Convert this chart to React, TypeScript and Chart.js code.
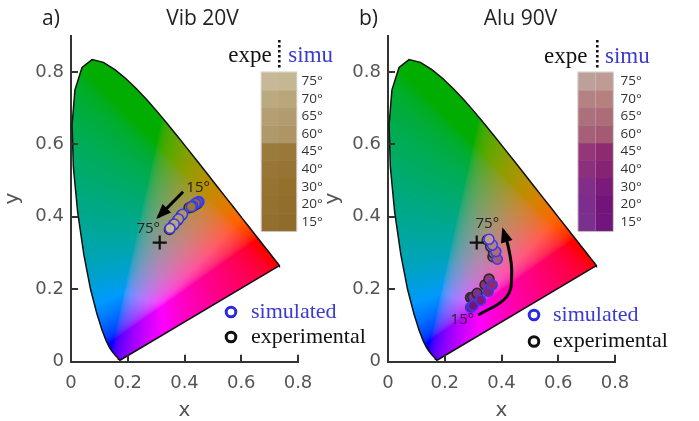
import React, { useEffect, useRef } from "react";
import { Chart, registerables } from "chart.js";

Chart.register(...registerables);

// ---------- DATA ----------
const angleLabels = ["15°", "20°", "30°", "40°", "45°", "60°", "65°", "70°", "75°"];

// CIE 1931 2° spectral locus (380–700 nm, 5 nm steps)
const locusX = [
  0.1741, 0.174, 0.1738, 0.1736, 0.1733, 0.173, 0.1726, 0.1721, 0.1714, 0.1703, 0.1689, 0.1669, 0.1644,
  0.1611, 0.1566, 0.151, 0.144, 0.1355, 0.1241, 0.1096, 0.0913, 0.0687, 0.0454, 0.0235, 0.0082, 0.0039,
  0.0139, 0.0389, 0.0743, 0.1142, 0.1547, 0.1929, 0.2296, 0.2658, 0.3016, 0.3373, 0.3731, 0.4087, 0.4441,
  0.4788, 0.5125, 0.5448, 0.5752, 0.6029, 0.627, 0.6482, 0.6658, 0.6801, 0.6915, 0.7006, 0.7079, 0.714,
  0.719, 0.723, 0.726, 0.7283, 0.73, 0.7311, 0.732, 0.7327, 0.7334, 0.734, 0.7344, 0.7346, 0.7347,
];
const locusY = [
  0.005, 0.005, 0.0049, 0.0049, 0.0048, 0.0048, 0.0048, 0.0048, 0.0051, 0.0058, 0.0069, 0.0086, 0.0109,
  0.0138, 0.0177, 0.0227, 0.0297, 0.0399, 0.0578, 0.0868, 0.1327, 0.2007, 0.295, 0.4127, 0.5384, 0.6548,
  0.7502, 0.812, 0.8338, 0.8262, 0.8059, 0.7816, 0.7543, 0.7243, 0.6923, 0.6589, 0.6245, 0.5896, 0.5547,
  0.5202, 0.4866, 0.4544, 0.4242, 0.3965, 0.3725, 0.3514, 0.334, 0.3197, 0.3083, 0.2993, 0.292, 0.2859,
  0.2809, 0.277, 0.274, 0.2717, 0.27, 0.2689, 0.268, 0.2673, 0.2666, 0.266, 0.2656, 0.2654, 0.2653,
];

const whiteX = [0.3127];
const whiteY = [0.329];

const xTickValues = [0, 0.2, 0.4, 0.6, 0.8];
const yTickValues = [0, 0.2, 0.4, 0.6, 0.8];

// a) Vib 20V  (angle order 15..75)
const vibSimX = [0.451, 0.446, 0.439, 0.429, 0.424, 0.393, 0.379, 0.364, 0.349];
const vibSimY = [0.442, 0.44, 0.437, 0.43, 0.428, 0.407, 0.394, 0.38, 0.368];
const vibExpX = [0.447, 0.441, 0.433, 0.424, 0.416, 0.389, 0.376, 0.361, 0.347];
const vibExpY = [0.438, 0.435, 0.431, 0.427, 0.425, 0.404, 0.391, 0.378, 0.365];
const vibExpColors = ["#926f2e", "#94712f", "#967331", "#987637", "#9b7b3c", "#af9869", "#b49e72", "#bba97f", "#c8b996"];
const vibSimColors = ["#906c2a", "#926e2c", "#94702d", "#967434", "#997838", "#ad9566", "#b29b6e", "#b9a67b", "#c6b793"];
const vibArrowX = [0.395, 0.308];
const vibArrowY = [0.469, 0.4];
const vibArrowLabelX = [0.448, 0.272];
const vibArrowLabelY = [0.479, 0.368];
const vibArrowLabels = ["15°", "75°"];

// b) Alu 90V
const aluSimX = [0.291, 0.3, 0.326, 0.353, 0.367, 0.385, 0.38, 0.368, 0.356];
const aluSimY = [0.15, 0.155, 0.17, 0.194, 0.212, 0.283, 0.304, 0.322, 0.338];
const aluExpX = [0.291, 0.299, 0.314, 0.342, 0.356, 0.37, 0.372, 0.362, 0.35];
const aluExpY = [0.177, 0.178, 0.189, 0.212, 0.228, 0.29, 0.3, 0.318, 0.336];
const aluExpColors = ["#7a308c", "#7d2d8c", "#822d87", "#8c307d", "#94377a", "#a55f78", "#ac707d", "#b48282", "#bea09b"];
const aluSimColors = ["#70167d", "#731479", "#7a1a7a", "#872373", "#8e2a70", "#a55a73", "#ac6c78", "#b6807f", "#c09b96"];
const aluArrowX = [0.318, 0.418, 0.436, 0.424, 0.406];
const aluArrowY = [0.129, 0.179, 0.244, 0.317, 0.363];
const aluArrowLabelX = [0.262, 0.35];
const aluArrowLabelY = [0.115, 0.38];
const aluArrowLabels = ["15°", "75°"];

// ---------- LAYOUT ----------
type Panel = {
  letter: string;
  title: string;
  canvasLeft: number;
  canvasWidth: number;
  areaLeft: number;
  areaRight: number;
  letterX: number;
  titleX: number;
  simX: number[]; simY: number[]; expX: number[]; expY: number[];
  simColors: string[]; expColors: string[];
  arrowX: number[]; arrowY: number[]; arrowTension: number;
  labX: number[]; labY: number[]; labTexts: string[];
  barX: number; barLabelX: number; expeX: number; dotX: number; simuX: number; headY: number;
  legX: number; legTextX: number; legY1: number; legY2: number;
};

const H = 421;
const AREA_TOP = 35.6;
const AREA_BOTTOM = 361.8;
const BAR_TOP = 72.5;
const BAR_BOTTOM = 230.7;
const BAR_COL = 17.3;

const panels: Panel[] = [
  {
    letter: "a)", title: "Vib 20V", canvasLeft: 0, canvasWidth: 380, areaLeft: 71, areaRight: 298,
    letterX: 42, titleX: 202.5,
    simX: vibSimX, simY: vibSimY, expX: vibExpX, expY: vibExpY, simColors: vibSimColors, expColors: vibExpColors,
    arrowX: vibArrowX, arrowY: vibArrowY, arrowTension: 0,
    labX: vibArrowLabelX, labY: vibArrowLabelY, labTexts: vibArrowLabels,
    barX: 261.7, barLabelX: 301.5, expeX: 228.3, dotX: 279.3, simuX: 288.3, headY: 61.7,
    legX: 231, legTextX: 251, legY1: 312, legY2: 337,
  },
  {
    letter: "b)", title: "Alu 90V", canvasLeft: 320, canvasWidth: 379, areaLeft: 68, areaRight: 295,
    letterX: 39, titleX: 200.5,
    simX: aluSimX, simY: aluSimY, expX: aluExpX, expY: aluExpY, simColors: aluSimColors, expColors: aluExpColors,
    arrowX: aluArrowX, arrowY: aluArrowY, arrowTension: 0.4,
    labX: aluArrowLabelX, labY: aluArrowLabelY, labTexts: aluArrowLabels,
    barX: 258.3, barLabelX: 300.5, expeX: 224, dotX: 277.3, simuX: 285, headY: 62.7,
    legX: 214, legTextX: 233, legY1: 315, legY2: 341.5,
  },
];

// ---------- COLOUR ----------
function xyToRgb(x: number, y: number): [number, number, number] {
  const yy = Math.max(y, 0.001);
  const X = x / yy, Y = 1, Z = (1 - x - y) / yy;
  let r = 3.2406 * X - 1.5372 * Y - 0.4986 * Z;
  let g = -0.9689 * X + 1.8758 * Y + 0.0415 * Z;
  let b = 0.0557 * X - 0.204 * Y + 1.057 * Z;
  r = Math.max(r, 0); g = Math.max(g, 0); b = Math.max(b, 0);
  const m = Math.max(r, g, b, 1e-6);
  r /= m; g /= m; b /= m;
  const L = 0.2126 * r + 0.7152 * g + 0.0722 * b;
  const k = Math.min(1, 0.3 / Math.max(L, 1e-6));
  r *= k; g *= k; b *= k;
  const gam = (c: number) => (c <= 0.0031308 ? 12.92 * c : 1.055 * Math.pow(c, 1 / 2.4) - 0.055);
  return [Math.round(gam(r) * 255), Math.round(gam(g) * 255), Math.round(gam(b) * 255)];
}

const gamutPlugin = {
  id: "gamut",
  beforeDatasetsDraw(chart: any) {
    const { ctx, chartArea: a, scales } = chart;
    const xs = scales.x, ys = scales.y;
    const w = Math.ceil(a.right - a.left), h = Math.ceil(a.bottom - a.top);
    const off = document.createElement("canvas");
    off.width = w; off.height = h;
    const octx = off.getContext("2d")!;
    const img = octx.createImageData(w, h);
    for (let j = 0; j < h; j++) {
      const dy = ys.getValueForPixel(a.top + j + 0.5);
      for (let i = 0; i < w; i++) {
        const dx = xs.getValueForPixel(a.left + i + 0.5);
        const [r, g, b] = xyToRgb(dx, dy);
        const idx = (j * w + i) * 4;
        img.data[idx] = r; img.data[idx + 1] = g; img.data[idx + 2] = b; img.data[idx + 3] = 255;
      }
    }
    octx.putImageData(img, 0, 0);
    ctx.save();
    ctx.beginPath();
    locusX.forEach((lx, i) => {
      const px = xs.getPixelForValue(lx), py = ys.getPixelForValue(locusY[i]);
      if (i === 0) ctx.moveTo(px, py); else ctx.lineTo(px, py);
    });
    ctx.closePath();
    ctx.clip();
    ctx.drawImage(off, a.left, a.top);
    ctx.restore();
  },
};

function makeDecor(p: Panel) {
  return {
    id: "decor",
    afterDraw(chart: any) {
      const { ctx, chartArea: a, scales } = chart;
      const xs = scales.x, ys = scales.y;
      ctx.save();
      // inward tick marks
      ctx.strokeStyle = "#333";
      ctx.lineWidth = 2;
      xTickValues.forEach((v) => {
        const px = Math.round(xs.getPixelForValue(v));
        ctx.beginPath(); ctx.moveTo(px, a.bottom); ctx.lineTo(px, a.bottom - 7); ctx.stroke();
      });
      yTickValues.forEach((v) => {
        const py = Math.round(ys.getPixelForValue(v));
        ctx.beginPath(); ctx.moveTo(a.left, py); ctx.lineTo(a.left + 7, py); ctx.stroke();
      });

      // arrow head
      const meta = chart.getDatasetMeta(3);
      const pts = meta.data;
      if (pts.length >= 2) {
        const e = pts[pts.length - 1], s = pts[pts.length - 2];
        const ang = Math.atan2(e.y - s.y, e.x - s.x);
        const len = 12, hw = 6;
        ctx.fillStyle = "#000";
        ctx.beginPath();
        ctx.moveTo(e.x + Math.cos(ang) * 3, e.y + Math.sin(ang) * 3);
        ctx.lineTo(e.x - Math.cos(ang) * len + Math.cos(ang + Math.PI / 2) * hw, e.y - Math.sin(ang) * len + Math.sin(ang + Math.PI / 2) * hw);
        ctx.lineTo(e.x - Math.cos(ang) * len - Math.cos(ang + Math.PI / 2) * hw, e.y - Math.sin(ang) * len - Math.sin(ang + Math.PI / 2) * hw);
        ctx.closePath();
        ctx.fill();
      }

      // angle labels
      ctx.fillStyle = "#222";
      ctx.font = "15px 'Open Sans'";
      ctx.textAlign = "center";
      ctx.textBaseline = "middle";
      p.labTexts.forEach((t, i) => {
        ctx.fillText(t, xs.getPixelForValue(p.labX[i]), ys.getPixelForValue(p.labY[i]));
      });

      // titles
      ctx.fillStyle = "#222";
      ctx.font = "21px 'Open Sans'";
      ctx.textAlign = "left";
      ctx.fillText(p.letter, p.letterX, 19);
      ctx.textAlign = "center";
      ctx.fillText(p.title, p.titleX, 19);

      // colour bar
      const n = angleLabels.length;
      const rowH = (BAR_BOTTOM - BAR_TOP) / n;
      for (let i = 0; i < n; i++) {
        const yTop = BAR_BOTTOM - (i + 1) * rowH;
        ctx.fillStyle = p.expColors[i];
        ctx.fillRect(p.barX, yTop, BAR_COL, rowH + 0.5);
        ctx.fillStyle = p.simColors[i];
        ctx.fillRect(p.barX + BAR_COL, yTop, BAR_COL, rowH + 0.5);
      }
      ctx.strokeStyle = "rgba(120,110,100,0.35)";
      ctx.lineWidth = 1;
      ctx.strokeRect(p.barX - 0.5, BAR_TOP - 0.5, BAR_COL * 2 + 1, BAR_BOTTOM - BAR_TOP + 1);
      ctx.fillStyle = "#333";
      ctx.font = "13.5px 'Open Sans'";
      ctx.textAlign = "left";
      ctx.textBaseline = "middle";
      for (let i = 0; i < n; i++) {
        ctx.fillText(angleLabels[i], p.barLabelX, BAR_BOTTOM - (i + 0.5) * rowH);
      }
      ctx.textBaseline = "alphabetic";
      ctx.font = "23px 'Liberation Serif'";
      ctx.fillStyle = "#111";
      ctx.fillText("expe", p.expeX, p.headY);
      ctx.fillStyle = "#3a3ad0";
      ctx.fillText("simu", p.simuX, p.headY);
      ctx.strokeStyle = "#111";
      ctx.lineWidth = 2.6;
      ctx.setLineDash([2.5, 2.5]);
      ctx.beginPath(); ctx.moveTo(p.dotX, 40); ctx.lineTo(p.dotX, 70); ctx.stroke();
      ctx.setLineDash([]);

      // legend
      ctx.lineWidth = 3;
      ctx.strokeStyle = "#2a2ae0";
      ctx.beginPath(); ctx.arc(p.legX, p.legY1, 4.8, 0, Math.PI * 2); ctx.stroke();
      ctx.strokeStyle = "#111";
      ctx.beginPath(); ctx.arc(p.legX, p.legY2, 4.8, 0, Math.PI * 2); ctx.stroke();
      ctx.font = "22px 'Liberation Serif'";
      ctx.textBaseline = "middle";
      ctx.fillStyle = "#3a3ad0";
      ctx.fillText("simulated", p.legTextX, p.legY1);
      ctx.fillStyle = "#111";
      ctx.fillText("experimental", p.legTextX, p.legY2);
      ctx.restore();
    },
  };
}

const tickFont = { family: "'DejaVu Sans'", size: 18 };

function PanelChart({ p }: { p: Panel }) {
  const ref = useRef<HTMLCanvasElement>(null);
  useEffect(() => {
    const canvas = ref.current!;
    const pts = (xa: number[], ya: number[]) => xa.map((x, i) => ({ x, y: ya[i] }));
    const locus = [...pts(locusX, locusY), { x: locusX[0], y: locusY[0] }];
    const chart = new Chart(canvas, {
      type: "scatter",
      data: {
        datasets: [
          {
            label: "white", data: pts(whiteX, whiteY), pointStyle: "cross", pointRadius: 7,
            borderColor: "#111", pointBorderColor: "#111", pointBorderWidth: 2.2, order: 0,
          } as any,
          {
            label: "simulated", data: pts(p.simX, p.simY), pointRadius: 5,
            pointBackgroundColor: p.simColors, pointBorderColor: "#3b3bea", pointBorderWidth: 1.6, order: 1,
          } as any,
          {
            label: "experimental", data: pts(p.expX, p.expY), pointRadius: 5,
            pointBackgroundColor: p.expColors, pointBorderColor: "#2a2a2a", pointBorderWidth: 1.6, order: 2,
          } as any,
          {
            label: "arrow", type: "line", data: pts(p.arrowX, p.arrowY), showLine: true,
            borderColor: "#000", borderWidth: 3, pointRadius: 0, tension: p.arrowTension, fill: false, order: 3,
          } as any,
          {
            label: "locus", type: "line", data: locus, showLine: true,
            borderColor: "#111", borderWidth: 1.5, pointRadius: 0, tension: 0, fill: false, order: 4,
          } as any,
        ],
      },
      options: {
        responsive: false,
        animation: false,
        events: [],
        layout: { padding: { left: 0, top: AREA_TOP, right: p.canvasWidth - p.areaRight, bottom: 0 } },
        plugins: { legend: { display: false }, tooltip: { enabled: false }, title: { display: false } },
        scales: {
          x: {
            type: "linear", min: 0, max: 0.8,
            afterBuildTicks: (s: any) => { s.ticks = xTickValues.map((v) => ({ value: v })); },
            afterFit: (s: any) => { s.height = H - AREA_BOTTOM; },
            ticks: { font: tickFont, color: "#555", padding: 11, maxRotation: 0, autoSkip: false, callback: (v: any) => String(Number(v)) },
            grid: { display: false, drawTicks: false },
            border: { display: true, color: "#333", width: 2 },
            title: { display: true, text: "x", font: { family: "'DejaVu Sans'", size: 20, lineHeight: 1 }, color: "#555", padding: { top: 0, bottom: 0 } },
          },
          y: {
            type: "linear", min: 0, max: 0.9,
            afterBuildTicks: (s: any) => { s.ticks = yTickValues.map((v) => ({ value: v })); },
            afterFit: (s: any) => { s.width = p.areaLeft; },
            ticks: { font: tickFont, color: "#555", padding: 7, autoSkip: false, callback: (v: any) => String(Number(v)) },
            grid: { display: false, drawTicks: false },
            border: { display: true, color: "#333", width: 2 },
            title: { display: true, text: "y", font: { family: "'DejaVu Sans'", size: 20, lineHeight: 1 }, color: "#555", padding: { top: 3, bottom: 0 } },
          },
        },
      } as any,
      plugins: [gamutPlugin, makeDecor(p)],
    });
    return () => chart.destroy();
  }, [p]);
  return (
    <canvas
      ref={ref}
      width={p.canvasWidth}
      height={H}
      style={{ position: "absolute", left: p.canvasLeft, top: 0, width: p.canvasWidth, height: H }}
    />
  );
}

export default function App() {
  return (
    <div style={{ position: "absolute", left: 0, top: 0, width: 699, height: H, background: "#fff", overflow: "hidden" }}>
      {panels.map((p) => (
        <PanelChart key={p.letter} p={p} />
      ))}
    </div>
  );
}
